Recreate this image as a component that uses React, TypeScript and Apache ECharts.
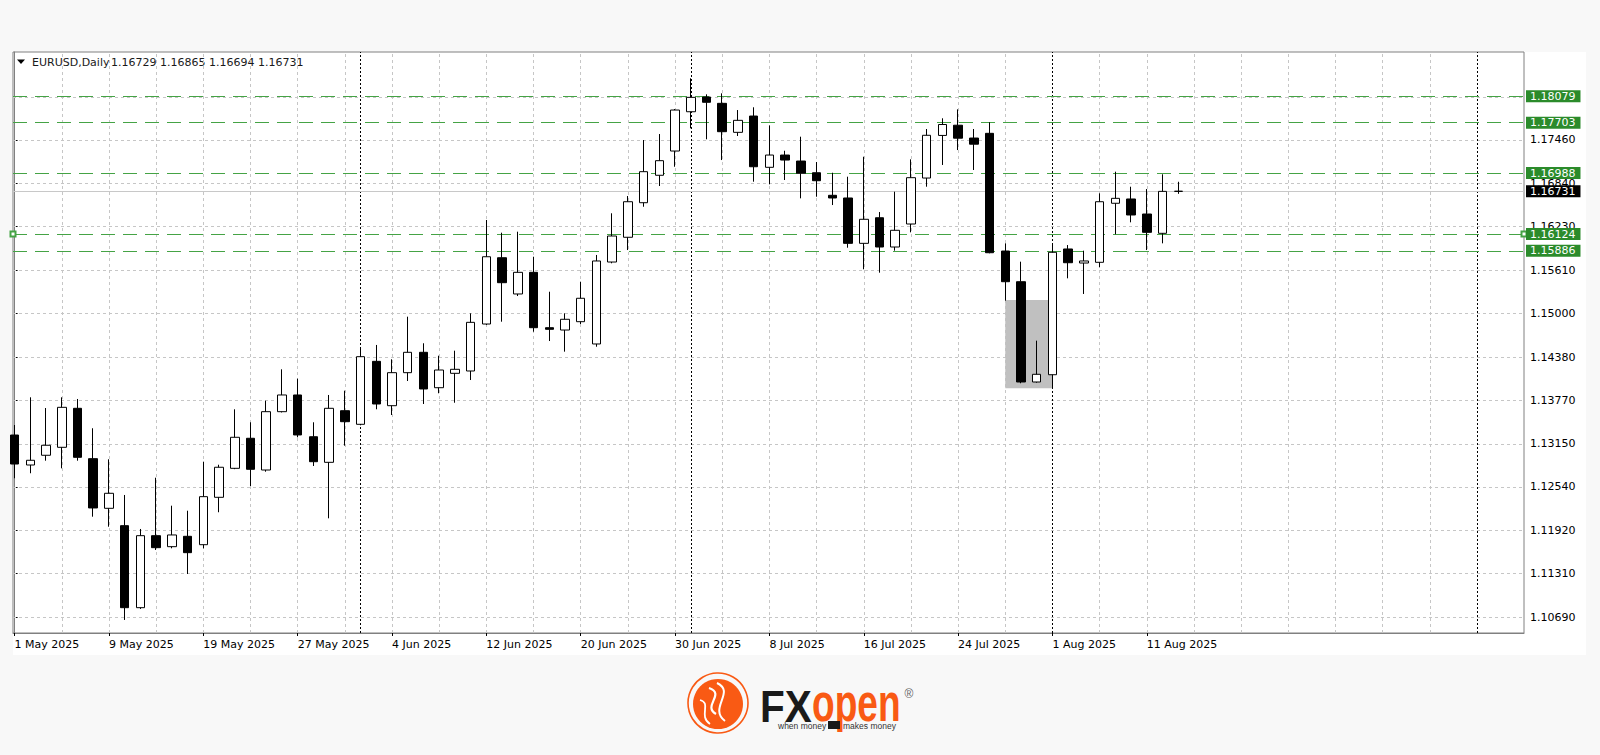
import React, { useEffect, useRef } from 'react';
import * as echarts from 'echarts';

// ---------- DATA ----------
const dates = [
  '1 May 2025', '2 May 2025', '5 May 2025', '6 May 2025', '7 May 2025', '8 May 2025', '9 May 2025',
  '12 May 2025', '13 May 2025', '14 May 2025', '15 May 2025', '16 May 2025',
  '19 May 2025', '20 May 2025', '21 May 2025', '22 May 2025', '23 May 2025',
  '26 May 2025', '27 May 2025', '28 May 2025', '29 May 2025', '30 May 2025',
  '2 Jun 2025', '3 Jun 2025', '4 Jun 2025', '5 Jun 2025', '6 Jun 2025',
  '9 Jun 2025', '10 Jun 2025', '11 Jun 2025', '12 Jun 2025', '13 Jun 2025',
  '16 Jun 2025', '17 Jun 2025', '18 Jun 2025', '19 Jun 2025', '20 Jun 2025',
  '23 Jun 2025', '24 Jun 2025', '25 Jun 2025', '26 Jun 2025', '27 Jun 2025',
  '30 Jun 2025', '1 Jul 2025', '2 Jul 2025', '3 Jul 2025', '4 Jul 2025',
  '7 Jul 2025', '8 Jul 2025', '9 Jul 2025', '10 Jul 2025', '11 Jul 2025',
  '14 Jul 2025', '15 Jul 2025', '16 Jul 2025', '17 Jul 2025', '18 Jul 2025',
  '21 Jul 2025', '22 Jul 2025', '23 Jul 2025', '24 Jul 2025', '25 Jul 2025',
  '28 Jul 2025', '29 Jul 2025', '30 Jul 2025', '31 Jul 2025', '1 Aug 2025',
  '4 Aug 2025', '5 Aug 2025', '6 Aug 2025', '7 Aug 2025', '8 Aug 2025',
  '11 Aug 2025', '12 Aug 2025', '13 Aug 2025',
];

const opens = [
  1.13274, 1.12849, 1.12987, 1.13100, 1.13653, 1.12939, 1.12235, 1.11989, 1.10826, 1.11847,
  1.11691, 1.11838, 1.11719, 1.12391, 1.12802, 1.13228, 1.12778, 1.13605, 1.13842, 1.13250,
  1.12887, 1.13619, 1.13426, 1.14319, 1.13690, 1.14158, 1.14447, 1.13945, 1.14149, 1.14182,
  1.14848, 1.15788, 1.15274, 1.15581, 1.14796, 1.14763, 1.14881, 1.14565, 1.15727, 1.16078,
  1.16568, 1.16957, 1.17301, 1.17858, 1.18067, 1.17977, 1.17566, 1.17797, 1.17070, 1.17244,
  1.17159, 1.16993, 1.16673, 1.16635, 1.15992, 1.16355, 1.15940, 1.16266, 1.16918, 1.17522,
  1.17667, 1.17485, 1.17552, 1.15883, 1.15448, 1.14026, 1.14129, 1.15912, 1.15713, 1.15723,
  1.16560, 1.16621, 1.16408, 1.16134, 1.16729,
];
const closes = [
  1.12863, 1.12916, 1.13129, 1.13667, 1.12958, 1.12240, 1.12448, 1.10826, 1.11847, 1.11677,
  1.11857, 1.11606, 1.12400, 1.12817, 1.13242, 1.12788, 1.13605, 1.13842, 1.13275, 1.12896,
  1.13653, 1.13463, 1.14385, 1.13714, 1.14158, 1.14447, 1.13927, 1.14196, 1.14206, 1.14872,
  1.15802, 1.15434, 1.15581, 1.14796, 1.14773, 1.14915, 1.15213, 1.15742, 1.16096, 1.16582,
  1.17008, 1.17164, 1.17882, 1.18062, 1.17992, 1.17575, 1.17736, 1.17078, 1.17244, 1.17173,
  1.16985, 1.16880, 1.16635, 1.15992, 1.16333, 1.15940, 1.16177, 1.16923, 1.17524, 1.17677,
  1.17483, 1.17398, 1.15859, 1.15448, 1.14026, 1.14135, 1.15865, 1.15717, 1.15742, 1.16582,
  1.16630, 1.16394, 1.16148, 1.16729, 1.16731,
];
const lows = [
  1.12661, 1.12732, 1.12910, 1.12802, 1.12910, 1.12116, 1.11974, 1.10652, 1.10808, 1.11644,
  1.11668, 1.11304, 1.11668, 1.12179, 1.12790, 1.12551, 1.12754, 1.13594, 1.13242, 1.12835,
  1.12093, 1.13123, 1.13412, 1.13639, 1.13558, 1.14040, 1.13714, 1.13866, 1.13732, 1.14054,
  1.14834, 1.14881, 1.15245, 1.14739, 1.14607, 1.14456, 1.14848, 1.14526, 1.15709, 1.15897,
  1.16511, 1.16805, 1.17078, 1.17623, 1.17467, 1.17173, 1.17514, 1.16866, 1.16829, 1.16890,
  1.16630, 1.16653, 1.16535, 1.15930, 1.15624, 1.15576, 1.15888, 1.16148, 1.16795, 1.17103,
  1.17315, 1.17032, 1.15851, 1.15179, 1.14008, 1.14016, 1.13937, 1.15496, 1.15274, 1.15652,
  1.16120, 1.16290, 1.15897, 1.15992, 1.16694,
];
const highs = [
  1.13416, 1.13809, 1.13657, 1.13809, 1.13785, 1.13370, 1.12930, 1.12424, 1.11942, 1.12669,
  1.12272, 1.12201, 1.12896, 1.12853, 1.13639, 1.13455, 1.13761, 1.14206, 1.14073, 1.13455,
  1.13842, 1.13903, 1.14494, 1.14551, 1.14348, 1.14952, 1.14575, 1.14399, 1.14470, 1.15000,
  1.16323, 1.16143, 1.16157, 1.15802, 1.15306, 1.15000, 1.15448, 1.15827, 1.16418, 1.16663,
  1.17457, 1.17542, 1.17896, 1.18332, 1.18105, 1.18119, 1.17882, 1.17921, 1.17665, 1.17305,
  1.17504, 1.17145, 1.16993, 1.16937, 1.17220, 1.16436, 1.16724, 1.17183, 1.17613, 1.17765,
  1.17892, 1.17613, 1.17709, 1.15992, 1.15732, 1.14612, 1.15992, 1.15968, 1.15888, 1.16701,
  1.17008, 1.16795, 1.16762, 1.16971, 1.16865,
];

// tick labels
const xTickIndices = [0, 6, 12, 18, 24, 30, 36, 42, 48, 54, 60, 66, 72];
const yTickLabels = [
  1.10690, 1.11310, 1.11920, 1.12540, 1.13150, 1.13770, 1.14380,
  1.15000, 1.15610, 1.16230, 1.16840, 1.17460,
];
const extraGridLevels = [1.18070];

// drawn horizontal levels and current bid
const levelLines = [1.18079, 1.17703, 1.16988, 1.15886];
const anchoredLevel = 1.16124;
const bidPrice = 1.16731;

// month separators (bar indices) and shaded box
const separatorBars = [22, 43, 66, 93];
const boxFrom = [63, 1.15189];
const boxTo = [66, 1.13937];

const legendSymbol = 'EURUSD,Daily';
const legendOHLC = '1.16729 1.16865 1.16694 1.16731';

// ---------- LAYOUT ----------
const X_MIN = -0.102;
const X_MAX = 95.987;
const Y_MIN = 1.10467;
const Y_MAX = 1.18705;
const FONT = '"DejaVu Sans", Verdana, sans-serif';
const GREEN_LINE = '#45a345';
const GREEN_BOX = '#2b8b2b';
const ORANGE = '#f95a14';

function levelLabel(v: number, bg: string) {
  return {
    show: true,
    position: 'end',
    distance: 2,
    formatter: v.toFixed(5),
    backgroundColor: bg,
    color: '#ffffff',
    padding: [1, 5, 0, 4],
    lineHeight: 11,
    fontFamily: FONT,
    fontSize: 11,
  };
}

function buildOption() {
  const candleData = opens.map((o, i) => [i, o, closes[i], lows[i], highs[i]]);

  const gridStyle = { color: '#c6c6c6', type: [3, 3], width: 1 };
  const gridItems: any[] = [];
  [...yTickLabels, ...extraGridLevels].forEach((v) => gridItems.push({ yAxis: v, lineStyle: gridStyle }));
  for (let k = 3; k <= 93; k += 3) {
    if (separatorBars.indexOf(k) < 0) gridItems.push({ xAxis: k, lineStyle: gridStyle });
  }
  separatorBars.forEach((k) =>
    gridItems.push({ xAxis: k, lineStyle: { color: '#000000', type: [2, 2], width: 1 } })
  );

  const levelItems: any[] = levelLines.map((v) => ({
    yAxis: v,
    lineStyle: { color: GREEN_LINE, type: [14, 8], width: 1 },
    label: levelLabel(v, GREEN_BOX),
  }));
  levelItems.push([
    {
      coord: [X_MIN, anchoredLevel],
      symbol: 'emptyRect',
      symbolSize: 5,
      itemStyle: { color: GREEN_LINE },
      lineStyle: { color: GREEN_LINE, type: [14, 8], width: 1 },
      label: levelLabel(anchoredLevel, GREEN_BOX),
    },
    { coord: [X_MAX, anchoredLevel], symbol: 'emptyRect', symbolSize: 5, itemStyle: { color: GREEN_LINE } },
  ]);
  levelItems.push({
    yAxis: bidPrice,
    lineStyle: { color: '#c8c8c8', type: 'solid', width: 1 },
    label: levelLabel(bidPrice, '#000000'),
  });

  return {
    animation: false,
    backgroundColor: 'transparent',
    textStyle: { fontFamily: FONT },
    grid: {
      left: 13,
      right: 76,
      top: 52,
      bottom: 122,
      show: true,
      borderColor: '#808080',
      borderWidth: 1,
      backgroundColor: '#ffffff',
      outerBoundsMode: 'none',
    },
    xAxis: {
      type: 'value',
      min: X_MIN,
      max: X_MAX,
      axisLine: { show: true, lineStyle: { color: '#808080' } },
      axisTick: { show: true, length: 3, inside: false, customValues: xTickIndices, lineStyle: { color: '#000' } },
      axisLabel: {
        show: true,
        customValues: xTickIndices,
        formatter: (v: number) => dates[Math.round(v)] ?? '',
        align: 'left',
        margin: 6,
        color: '#000',
        fontFamily: FONT,
        fontSize: 11,
      },
      splitLine: { show: false },
    },
    yAxis: {
      type: 'value',
      position: 'right',
      min: Y_MIN,
      max: Y_MAX,
      axisLine: { show: true, lineStyle: { color: '#808080' } },
      axisTick: { show: true, length: 3, inside: false, customValues: yTickLabels, lineStyle: { color: '#000' } },
      axisLabel: {
        customValues: yTickLabels,
        formatter: (v: number) => v.toFixed(5),
        margin: 6,
        color: '#000',
        fontFamily: FONT,
        fontSize: 11,
      },
      splitLine: { show: false },
    },
    graphic: [
      { type: 'polygon', shape: { points: [[17, 59.5], [25, 59.5], [21, 64]] }, style: { fill: '#000' } },
      {
        type: 'text', x: 32, y: 62,
        style: { text: legendSymbol, font: `11px ${FONT}`, fill: '#1a1a1a', align: 'left', verticalAlign: 'middle' },
      },
      {
        type: 'text', x: 111, y: 62,
        style: { text: legendOHLC, font: `11px ${FONT}`, fill: '#1a1a1a', align: 'left', verticalAlign: 'middle' },
      },
      // logo emblem
      { type: 'circle', shape: { cx: 718, cy: 703, r: 30 }, style: { fill: 'none', stroke: ORANGE, lineWidth: 1.6 } },
      { type: 'circle', shape: { cx: 718, cy: 704, r: 25 }, style: { fill: ORANGE } },
      {
        type: 'bezierCurve',
        shape: { x1: 709, y1: 688, cpx1: 726, cpy1: 694, cpx2: 702, cpy2: 706, x2: 716, y2: 714 },
        style: { stroke: '#fff', lineWidth: 2.2, fill: 'none' },
      },
      {
        type: 'bezierCurve',
        shape: { x1: 717, y1: 683, cpx1: 736, cpy1: 692, cpx2: 708, cpy2: 708, x2: 725, y2: 721 },
        style: { stroke: '#fff', lineWidth: 2, fill: 'none' },
      },
      {
        type: 'bezierCurve',
        shape: { x1: 700, y1: 700, cpx1: 712, cpy1: 703, cpx2: 698, cpy2: 716, x2: 710, y2: 724 },
        style: { stroke: '#fff', lineWidth: 1.8, fill: 'none' },
      },
      {
        type: 'text', x: 760, y: 706, scaleX: 0.9,
        style: { text: 'FX', font: `bold 45px "Liberation Sans", Arial, sans-serif`, fill: '#1a1a1a', align: 'left', verticalAlign: 'middle' },
      },
      {
        type: 'text', x: 812, y: 703, scaleX: 0.7,
        style: { text: 'open', font: `bold 53px "Liberation Sans", Arial, sans-serif`, fill: ORANGE, align: 'left', verticalAlign: 'middle' },
      },
      { type: 'rect', shape: { x: 828, y: 721, width: 12, height: 8 }, style: { fill: '#1a1a1a' } },
      {
        type: 'text', x: 778, y: 726,
        style: { text: 'when money', font: `8.5px "Liberation Sans", Arial, sans-serif`, fill: '#333', align: 'left', verticalAlign: 'middle' },
      },
      {
        type: 'text', x: 843, y: 726,
        style: { text: 'makes money', font: `8.5px "Liberation Sans", Arial, sans-serif`, fill: '#333', align: 'left', verticalAlign: 'middle' },
      },
      {
        type: 'text', x: 909, y: 694,
        style: { text: '®', font: `12px "Liberation Sans", Arial, sans-serif`, fill: '#666', align: 'center', verticalAlign: 'middle' },
      },
    ],
    series: [
      {
        type: 'line',
        data: [],
        z: 1,
        silent: true,
        markLine: {
          z: 1,
          silent: true,
          animation: false,
          precision: 6,
          symbol: ['none', 'none'],
          label: { show: false },
          data: gridItems,
        },
        markArea: {
          z: 2,
          silent: true,
          animation: false,
          itemStyle: { color: '#c0c0c0', opacity: 1 },
          data: [[{ coord: boxFrom }, { coord: boxTo }]],
        },
      },
      {
        type: 'candlestick',
        z: 10,
        clip: true,
        barWidth: 9,
        data: candleData,
        itemStyle: {
          color: '#ffffff',
          color0: '#000000',
          borderColor: '#000000',
          borderColor0: '#000000',
          borderWidth: 1,
        },
        markLine: {
          z: 4,
          silent: true,
          animation: false,
          precision: 6,
          symbol: ['none', 'none'],
          data: levelItems,
        },
      },
    ],
  };
}

export default function App() {
  const ref = useRef<HTMLDivElement>(null);
  useEffect(() => {
    if (!ref.current) return;
    const chart = echarts.init(ref.current, null, { renderer: 'svg' });
    chart.setOption(buildOption() as any);
    return () => chart.dispose();
  }, []);
  return (
    <div style={{ position: 'fixed', left: 0, top: 0, width: 1600, height: 755, background: '#f8f8f8' }}>
      <div style={{ position: 'absolute', left: 13, top: 52, width: 1573, height: 603, background: '#ffffff' }} />
      <div ref={ref} style={{ position: 'absolute', left: 0, top: 0, width: 1600, height: 755 }} />
    </div>
  );
}
